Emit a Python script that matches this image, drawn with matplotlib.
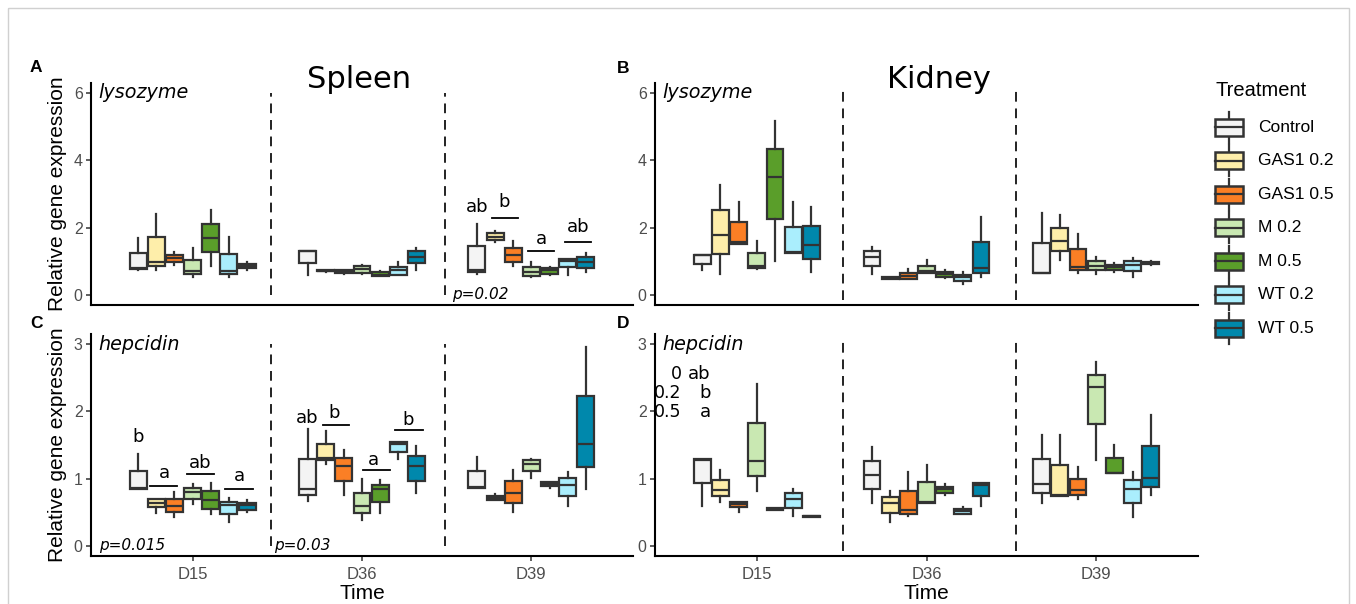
import matplotlib.pyplot as plt
from matplotlib.patches import Rectangle

W, H = 1356, 604

treatments = ['Control', 'GAS1 0.2', 'GAS1 0.5', 'M 0.2', 'M 0.5', 'WT 0.2', 'WT 0.5']
colors = ['#F4F4F4', '#FEEEAA', '#FB7F25', '#C9E8B2', '#5A9E2A', '#AAEEFD', '#0088AC']
days = ['D15', 'D36', 'D39']

# box stats per treatment: (whisker low, Q1, median, Q3, whisker high)
spleen_lys_d15 = [(0.75, 0.78, 0.80, 1.25, 1.68), (0.74, 0.87, 0.97, 1.71, 2.40),
                  (0.90, 0.97, 1.09, 1.19, 1.27), (0.52, 0.62, 0.70, 1.05, 1.40),
                  (0.87, 1.27, 1.69, 2.11, 2.52), (0.52, 0.62, 0.70, 1.22, 1.71),
                  (0.75, 0.79, 0.85, 0.92, 0.99)]
spleen_lys_d36 = [(0.59, 0.95, 1.29, 1.30, 1.30), (0.69, 0.70, 0.72, 0.74, 0.75),
                  (0.61, 0.64, 0.70, 0.73, 0.74), (0.62, 0.65, 0.77, 0.85, 0.90),
                  (0.55, 0.56, 0.60, 0.67, 0.70), (0.60, 0.60, 0.74, 0.82, 0.97),
                  (0.74, 0.95, 1.12, 1.29, 1.38)]
spleen_lys_d39 = [(0.62, 0.67, 0.74, 1.44, 2.11), (1.56, 1.63, 1.73, 1.83, 1.89),
                  (0.87, 0.99, 1.19, 1.40, 1.61), (0.52, 0.57, 0.69, 0.82, 0.97),
                  (0.59, 0.62, 0.74, 0.79, 0.84), (0.59, 0.82, 1.02, 1.07, 1.07),
                  (0.67, 0.80, 0.97, 1.12, 1.24)]

kidney_lys_d15 = [(0.74, 0.92, 1.17, 1.19, 1.19), (0.62, 1.20, 1.79, 2.52, 3.25),
                  (1.50, 1.51, 1.58, 2.16, 2.75), (0.77, 0.80, 0.85, 1.25, 1.61),
                  (1.02, 2.26, 3.51, 4.34, 5.16), (1.25, 1.25, 1.26, 2.01, 2.75),
                  (0.69, 1.07, 1.49, 2.06, 2.60)]
kidney_lys_d36 = [(0.62, 0.85, 1.12, 1.30, 1.41), (0.46, 0.47, 0.50, 0.53, 0.54),
                  (0.46, 0.47, 0.57, 0.65, 0.77), (0.65, 0.65, 0.70, 0.85, 1.04),
                  (0.50, 0.52, 0.62, 0.69, 0.74), (0.33, 0.40, 0.53, 0.59, 0.67),
                  (0.54, 0.65, 0.79, 1.56, 2.31)]
kidney_lys_d39 = [(0.64, 0.64, 0.65, 1.54, 2.42), (1.05, 1.30, 1.59, 1.99, 2.36),
                  (0.65, 0.75, 0.84, 1.35, 1.81), (0.62, 0.74, 0.87, 1.02, 1.12),
                  (0.68, 0.74, 0.82, 0.90, 0.95), (0.52, 0.70, 0.90, 1.00, 1.10),
                  (0.88, 0.91, 0.95, 0.99, 1.00)]

spleen_hep_d15 = [(0.84, 0.84, 0.86, 1.12, 1.37), (0.49, 0.58, 0.64, 0.69, 0.69),
                  (0.43, 0.50, 0.59, 0.69, 0.80), (0.63, 0.70, 0.80, 0.86, 0.92),
                  (0.47, 0.55, 0.68, 0.81, 0.93), (0.36, 0.47, 0.61, 0.66, 0.71),
                  (0.51, 0.54, 0.61, 0.64, 0.68)]
spleen_hep_d36 = [(0.67, 0.76, 0.84, 1.29, 1.74), (1.22, 1.27, 1.31, 1.52, 1.71),
                  (0.75, 0.96, 1.19, 1.30, 1.42), (0.38, 0.49, 0.60, 0.79, 1.00),
                  (0.49, 0.66, 0.84, 0.91, 0.98), (1.29, 1.40, 1.52, 1.54, 1.54),
                  (0.79, 0.96, 1.19, 1.33, 1.48)]
spleen_hep_d39 = [(0.86, 0.86, 0.87, 1.11, 1.32), (0.68, 0.68, 0.71, 0.74, 0.77),
                  (0.51, 0.64, 0.79, 0.96, 1.13), (1.01, 1.11, 1.22, 1.27, 1.29),
                  (0.86, 0.89, 0.92, 0.95, 0.95), (0.59, 0.74, 0.91, 1.01, 1.10),
                  (0.84, 1.17, 1.51, 2.23, 2.96)]

kidney_hep_d15 = [(0.60, 0.93, 1.28, 1.29, 1.29), (0.66, 0.74, 0.83, 0.98, 1.13),
                  (0.51, 0.58, 0.63, 0.66, 0.66), (0.81, 1.04, 1.26, 1.83, 2.41),
                  (0.53, 0.53, 0.55, 0.56, 0.56), (0.45, 0.56, 0.69, 0.78, 0.85),
                  (0.43, 0.43, 0.44, 0.45, 0.45)]
kidney_hep_d36 = [(0.64, 0.84, 1.06, 1.26, 1.47), (0.36, 0.49, 0.64, 0.73, 0.82),
                  (0.45, 0.48, 0.53, 0.82, 1.10), (0.64, 0.64, 0.65, 0.95, 1.21),
                  (0.75, 0.78, 0.84, 0.88, 0.92), (0.47, 0.47, 0.52, 0.55, 0.58),
                  (0.59, 0.74, 0.91, 0.93, 0.93)]
kidney_hep_d39 = [(0.64, 0.78, 0.92, 1.29, 1.65), (0.74, 0.74, 0.75, 1.21, 1.65),
                  (0.69, 0.75, 0.83, 1.00, 1.17), (1.28, 1.81, 2.36, 2.54, 2.73),
                  (1.08, 1.08, 1.08, 1.30, 1.50), (0.43, 0.64, 0.85, 0.98, 1.10),
                  (0.76, 0.88, 1.01, 1.48, 1.94)]

# significance letters (x, baseline y, text) and bars (x0, x1, y)
spleen_lys_letters = [(2.681, 2.45, 'ab'), (2.840, 2.60, 'b'), (3.057, 1.51, 'a'), (3.279, 1.86, 'ab')]
spleen_lys_bars = [(2.767, 2.921, 2.29), (2.980, 3.135, 1.30), (3.200, 3.353, 1.56)]
spleen_hep_letters = [(0.679, 1.55, 'b'), (0.833, 1.01, 'a'), (1.045, 1.16, 'ab'), (1.276, 0.97, 'a'),
                      (1.675, 1.82, 'ab'), (1.837, 1.90, 'b'), (2.068, 1.21, 'a'), (2.275, 1.80, 'b')]
spleen_hep_bars = [(0.750, 0.908, 0.885), (0.967, 1.128, 1.07), (1.193, 1.354, 0.85),
                   (1.770, 1.925, 1.80), (2.004, 2.163, 1.13), (2.197, 2.358, 1.72)]
kidney_hep_doses = [(0.558, 2.48, '0'), (0.558, 2.20, '0.2'), (0.558, 1.92, '0.5')]
kidney_hep_letters = [(0.660, 2.48, 'ab'), (0.695, 2.20, 'b'), (0.695, 1.92, 'a')]

plt.rcParams['font.family'] = ['Liberation Sans', 'DejaVu Sans']
edge = '#333333'
dodge = 0.75 / 7
box_w = dodge * 0.93


def draw_boxes(ax, groups):
    for g, stats_list in enumerate(groups):
        for i, (lo, q1, med, q3, hi) in enumerate(stats_list):
            pos = g + 1 + (i - 3) * dodge
            st = [dict(whislo=lo, q1=q1, med=med, q3=q3, whishi=hi, fliers=[])]
            ax.bxp(st, positions=[pos], widths=box_w, patch_artist=True,
                   showcaps=False, showfliers=False, manage_ticks=False,
                   boxprops=dict(facecolor=colors[i], edgecolor=edge, linewidth=1.6),
                   medianprops=dict(color=edge, linewidth=1.6),
                   whiskerprops=dict(color=edge, linewidth=1.6))


def style_axes(ax, ylim, yticks, bottom):
    ax.set_xlim(0.4, 3.6)
    ax.set_ylim(*ylim)
    ax.set_yticks(yticks)
    for s in ['top', 'right']:
        ax.spines[s].set_visible(False)
    for s in ['left', 'bottom']:
        ax.spines[s].set_linewidth(1.5)
        ax.spines[s].set_color('black')
    ax.tick_params(axis='y', length=3.6, width=1.1, color=edge, pad=2.4,
                   labelsize=11.5, labelcolor='#4D4D4D')
    if bottom:
        ax.set_xticks([1, 2, 3])
        ax.set_xticklabels(days)
        ax.tick_params(axis='x', length=3.6, width=1.1, color=edge, pad=4,
                       labelsize=12, labelcolor='#4D4D4D')
        ax.set_xlabel('Time', fontsize=15, labelpad=2)
    else:
        ax.set_xticks([])


def fig_rect(x0, y0, x1, y1):
    return [x0 / W, 1 - y1 / H, (x1 - x0) / W, (y1 - y0) / H]


fig = plt.figure(figsize=(W / 100, H / 100), dpi=100)

axA = fig.add_axes(fig_rect(91, 82.7, 633, 305))
axB = fig.add_axes(fig_rect(655, 82.7, 1198, 305))
axC = fig.add_axes(fig_rect(91, 334, 633, 556))
axD = fig.add_axes(fig_rect(655, 334, 1198, 556))

draw_boxes(axA, [spleen_lys_d15, spleen_lys_d36, spleen_lys_d39])
draw_boxes(axB, [kidney_lys_d15, kidney_lys_d36, kidney_lys_d39])
draw_boxes(axC, [spleen_hep_d15, spleen_hep_d36, spleen_hep_d39])
draw_boxes(axD, [kidney_hep_d15, kidney_hep_d36, kidney_hep_d39])

style_axes(axA, (-0.3, 6.3), [0, 2, 4, 6], False)
style_axes(axB, (-0.3, 6.3), [0, 2, 4, 6], False)
style_axes(axC, (-0.15, 3.15), [0, 1, 2, 3], True)
style_axes(axD, (-0.15, 3.15), [0, 1, 2, 3], True)

for ax in (axA, axC):
    ax.set_ylabel('Relative gene expression', fontsize=15, labelpad=5)

dash = dict(color='#222222', linewidth=1.4, linestyles=(0, (5, 3.5)))
axA.vlines([1.46, 2.49], 0, 6, **dash)
axC.vlines([1.46, 2.49], 0, 3, **dash)
axB.vlines([1.507, 2.526], -0.14, 6.1, **dash)
axD.vlines([1.507, 2.526], -0.07, 3.05, **dash)

ann = dict(family='DejaVu Sans')
for ax, gene, ytop in [(axA, 'lysozyme', 6), (axB, 'lysozyme', 6),
                       (axC, 'hepcidin', 3), (axD, 'hepcidin', 3)]:
    ax.text(0.443, ytop, gene, style='italic', fontsize=13.8, va='center', **ann)

axA.text(2.531, 0.02, 'p=0.02', style='italic', fontsize=11, va='center', **ann)
axC.text(0.449, 0.0, 'p=0.015', style='italic', fontsize=11, va='center', **ann)
axC.text(1.478, 0.0, 'p=0.03', style='italic', fontsize=11, va='center', **ann)

for ax, letters, bars in [(axA, spleen_lys_letters, spleen_lys_bars),
                          (axC, spleen_hep_letters, spleen_hep_bars)]:
    for x, y, t in letters:
        ax.text(x, y, t, fontsize=13, ha='center', va='baseline', **ann)
    for x0, x1, y in bars:
        ax.plot([x0, x1], [y, y], color='black', linewidth=1.3)

for x, y, t in kidney_hep_doses:
    axD.text(x, y, t, fontsize=12.5, ha='right', va='baseline', **ann)
for x, y, t in kidney_hep_letters:
    axD.text(x, y, t, fontsize=13, ha='center', va='baseline', **ann)

# overlay in pixel units for titles, panel tags, legend and frame
ov = fig.add_axes([0, 0, 1, 1])
ov.set_xlim(0, W)
ov.set_ylim(H, 0)
ov.axis('off')

ov.text(359.5, 88.3, 'Spleen', fontsize=22, ha='center', va='baseline', **ann)
ov.text(939, 87.7, 'Kidney', fontsize=22, ha='center', va='baseline', **ann)
for tag, x, y in [('A', 30, 72), ('B', 616.5, 72.7), ('C', 30, 328), ('D', 616.5, 328)]:
    ov.text(x, y, tag, fontsize=12.5, fontweight='bold', va='baseline')

ov.text(1216, 90.7, 'Treatment', fontsize=14.5, va='center')
for i, (name, col) in enumerate(zip(treatments, colors)):
    yc = 127.3 + i * 33.5
    ov.plot([1229, 1229], [yc - 15.5, yc + 15.5], color=edge, linewidth=1.6, zorder=1)
    ov.add_patch(Rectangle((1215, yc - 8.5), 28, 17, facecolor=col, edgecolor=edge,
                           linewidth=1.8, zorder=2))
    ov.plot([1215, 1243], [yc, yc], color=edge, linewidth=1.6, zorder=3)
    ov.text(1258, yc, name, fontsize=12.5, va='center')

ov.add_patch(Rectangle((8, 8), 1341, 620, fill=False, edgecolor='#D0D0D0', linewidth=1))

fig.savefig('out.png', dpi=100)
